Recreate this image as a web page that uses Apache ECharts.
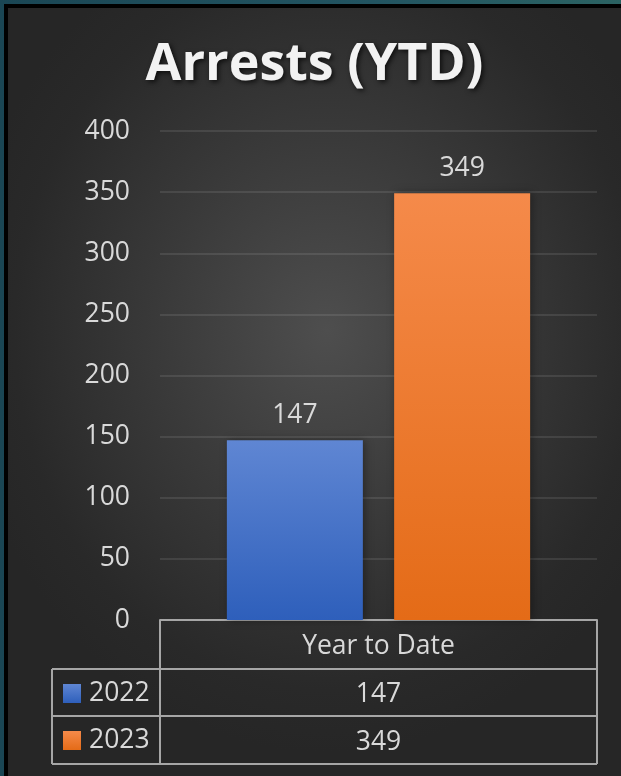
<!DOCTYPE html>
<html>
<head>
<meta charset="utf-8">
<script src="https://cdn.jsdelivr.net/npm/echarts@6/dist/echarts.min.js"></script>
<style>
  html, body { margin: 0; padding: 0; width: 621px; height: 776px; overflow: hidden; }
  body { background: linear-gradient(90deg, #1a4654 0%, #225461 60%, #2b6262 100%); }
  .frame {
    position: absolute; left: 4px; top: 4px; width: 700px; height: 800px;
    background: #000;
  }
  #chart {
    position: absolute; left: 8px; top: 8px; width: 613px; height: 768px;
    background: radial-gradient(ellipse 60% 55% at 52% 42%, #4e4e4e 0%, #3a3a3a 45%, #292929 85%, #262626 100%);
  }
</style>
</head>
<body>
<div class="frame"></div>
<div id="chart"></div>
<script>
// data
var categories = ['Year to Date'];
var seriesNames = ['2022', '2023'];
var values2022 = [147];
var values2023 = [349];
var yTicks = { min: 0, max: 400, interval: 50 };

// layout (chart px)
var gridLeft = 152, gridRight = 24, gridTop = 123, gridBottom = 156;
var W = 613, H = 768;
var axisY = H - gridBottom;        // 612
var plotR = W - gridRight;         // 589
var row1 = axisY + 49, row2 = row1 + 47, row3 = row2 + 48;
var tableL = 44;
var lineStyle = { stroke: '#a6a6a6', lineWidth: 2 };
var txtFont = 'Open Sans';
var txtSize = 26.5;

function hline(x1, x2, y) {
  return { type: 'line', shape: { x1: x1, y1: y, x2: x2, y2: y }, style: lineStyle, silent: true };
}
function vline(x, y1, y2) {
  return { type: 'line', shape: { x1: x, y1: y1, x2: x, y2: y2 }, style: lineStyle, silent: true };
}
function cellText(val, y) {
  return {
    type: 'text', x: (gridLeft + plotR) / 2, y: y + 2,
    style: { text: String(val), fill: '#d9d9d9', font: txtSize + 'px "Open Sans"', align: 'center', verticalAlign: 'middle' },
    silent: true
  };
}

var blueGrad = new echarts.graphic.LinearGradient(0, 0, 0, 1, [
  { offset: 0, color: '#5f86d3' }, { offset: 1, color: '#2e5fbb' }
]);
var orangeGrad = new echarts.graphic.LinearGradient(0, 0, 0, 1, [
  { offset: 0, color: '#f58a4a' }, { offset: 1, color: '#e46b17' }
]);

var myChart = echarts.init(document.getElementById('chart'));
var option = {
  backgroundColor: 'transparent',
  title: {
    text: 'Arrests (YTD)',
    left: 'center',
    top: 26,
    textStyle: {
      color: '#f2f2f2', fontFamily: txtFont, fontWeight: 'bold', fontSize: 52,
      textShadowColor: 'rgba(0,0,0,0.7)', textShadowBlur: 5, textShadowOffsetX: 2, textShadowOffsetY: 2
    }
  },
  legend: {
    orient: 'vertical',
    left: 55,
    top: row1 + 10,
    padding: 0,
    itemWidth: 18,
    itemHeight: 19,
    itemGap: 18,
    icon: 'rect',
    data: seriesNames,
    textStyle: { color: '#d9d9d9', fontFamily: txtFont, fontSize: txtSize, lineHeight: 29, padding: [0, 0, 0, 3] }
  },
  grid: { left: gridLeft, right: gridRight, top: gridTop, bottom: gridBottom },
  xAxis: {
    type: 'category',
    data: categories,
    axisTick: { show: false },
    axisLine: { lineStyle: { color: '#a6a6a6', width: 2 } },
    axisLabel: { color: '#d9d9d9', fontFamily: txtFont, fontSize: txtSize, margin: 13 }
  },
  yAxis: {
    type: 'value',
    min: yTicks.min, max: yTicks.max, interval: yTicks.interval,
    axisLabel: { color: '#d9d9d9', fontFamily: txtFont, fontSize: txtSize, margin: 30 },
    splitLine: { lineStyle: { color: 'rgba(255,255,255,0.13)', width: 1.5 } }
  },
  series: [
    {
      name: seriesNames[0], type: 'bar', data: values2022,
      barWidth: 136, barGap: '23%',
      itemStyle: { color: blueGrad, shadowColor: 'rgba(0,0,0,0.35)', shadowBlur: 8, shadowOffsetX: 2 },
      label: { show: true, position: 'top', distance: 11, color: '#d9d9d9', fontFamily: txtFont, fontSize: txtSize }
    },
    {
      name: seriesNames[1], type: 'bar', data: values2023,
      barWidth: 136,
      itemStyle: { color: orangeGrad, shadowColor: 'rgba(0,0,0,0.35)', shadowBlur: 8, shadowOffsetX: 2 },
      label: { show: true, position: 'top', distance: 11, color: '#d9d9d9', fontFamily: txtFont, fontSize: txtSize }
    }
  ],
  graphic: [
    vline(gridLeft, axisY, row3),
    vline(plotR, axisY, row3),
    vline(tableL, row1, row3),
    hline(tableL, plotR, row1),
    hline(tableL, plotR, row2),
    hline(tableL, plotR, row3),
    cellText(values2022[0], (row1 + row2) / 2),
    cellText(values2023[0], (row2 + row3) / 2)
  ]
};
myChart.setOption(option);
</script>
</body>
</html>
